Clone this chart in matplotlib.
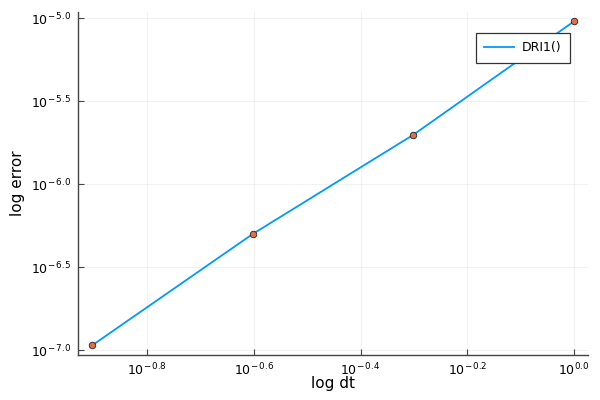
import numpy as np
import matplotlib
matplotlib.use('Agg')
import matplotlib.pyplot as plt
from matplotlib.ticker import FixedLocator, FuncFormatter

# convergence data (dt, error)
dts = [0.125, 0.25, 0.5, 1.0]
errors = [1.067e-7, 5.01e-7, 1.986e-6, 9.59e-6]
series_label = 'DRI1()'

xticks = [-0.8, -0.6, -0.4, -0.2, 0.0]
yticks = [-7.0, -6.5, -6.0, -5.5, -5.0]

line_color = '#009AFA'
marker_color = '#E36F47'

plt.rcParams['font.family'] = ['DejaVu Sans']
plt.rcParams['mathtext.fontset'] = 'dejavusans'

fig = plt.figure(figsize=(6, 4), dpi=100)
ax = fig.add_axes([0.13, 0.112, 0.85, 0.859])

lx = np.log10(dts)
ly = np.log10(errors)

ax.plot(lx, ly, color=line_color, lw=1.3, label=series_label, zorder=3)
ax.scatter(lx, ly, s=22, color=marker_color, edgecolors='#222222',
           linewidths=0.6, zorder=4)

xpad = 0.029 * (lx.max() - lx.min())
ypad = 0.03 * (ly.max() - ly.min())
ax.set_xlim(lx.min() - xpad, lx.max() + xpad)
ax.set_ylim(ly.min() - ypad, ly.max() + ypad)


def pow_fmt(v, pos):
    s = '%.1f' % abs(v)
    sign = '-\\,' if v < -1e-9 else ''
    return r'$\mathregular{10^{%s%s}}$' % (sign, s)


ax.xaxis.set_major_locator(FixedLocator(xticks))
ax.yaxis.set_major_locator(FixedLocator(yticks))
ax.xaxis.set_major_formatter(FuncFormatter(pow_fmt))
ax.yaxis.set_major_formatter(FuncFormatter(pow_fmt))

ax.grid(True, color='#000000', alpha=0.05, lw=0.8)
ax.set_axisbelow(True)
for side in ['top', 'right']:
    ax.spines[side].set_visible(False)
for side in ['left', 'bottom']:
    ax.spines[side].set_color('#444444')
    ax.spines[side].set_linewidth(1.0)
ax.tick_params(direction='in', length=4, width=0.8, color='#444444',
               labelsize=9, pad=5)

ax.set_xlabel('log dt', fontsize=11, labelpad=-2)
ax.set_ylabel('log error', fontsize=11, labelpad=4)

leg = ax.legend(loc='upper right', bbox_to_anchor=(0.965, 0.939),
                borderaxespad=0, fontsize=9, fancybox=False, framealpha=1,
                edgecolor='#333333', handlelength=2.4, handletextpad=0.6,
                borderpad=0.7)
leg.get_frame().set_linewidth(0.9)

fig.savefig('out.png', dpi=100)
